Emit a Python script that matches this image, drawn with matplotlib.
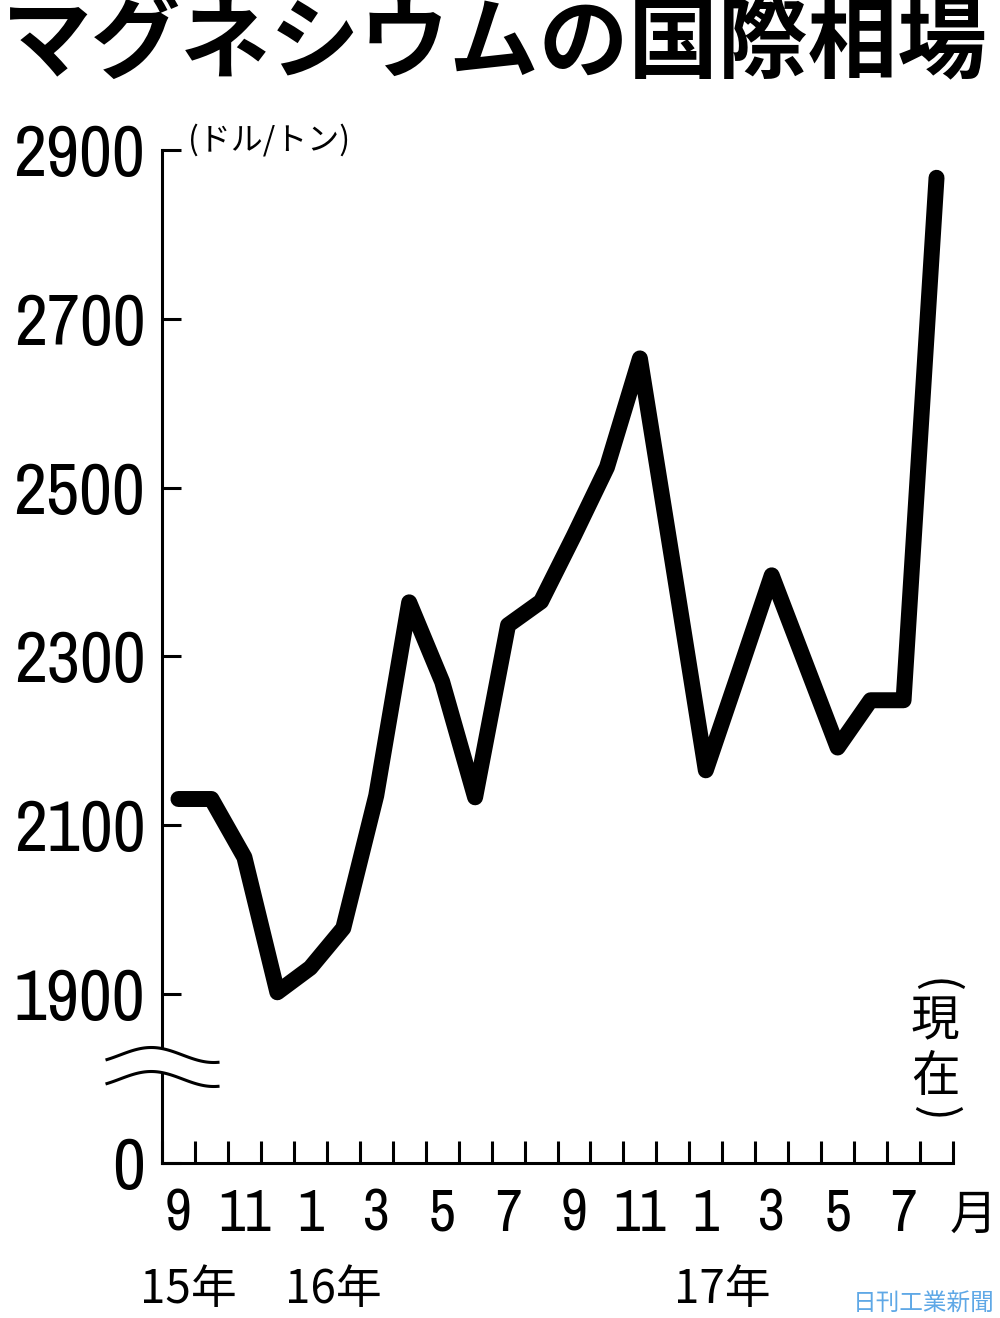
import numpy as np
import matplotlib
matplotlib.use("Agg")
import matplotlib.pyplot as plt

# monthly prices, 2015/9 .. 2017/8 (ドル/トン)
prices = [2131, 2131, 2062, 1902, 1931, 1978, 2135, 2364, 2270, 2133, 2337, 2365,
          2443, 2524, 2653, 2410, 2165, 2280, 2396, 2294, 2192, 2248, 2248, 2867]
month_labels = ["9", "11", "1", "3", "5", "7", "9", "11", "1", "3", "5", "7"]
year_labels = ["15年", "16年", "17年"]
year_pos = [0.3, 4.7, 16.5]
ytick_vals = [1700, 1900, 2100, 2300, 2500, 2700, 2900]
ytick_text = ["0", "1900", "2100", "2300", "2500", "2700", "2900"]

JP = ["Noto Sans CJK JP", "DejaVu Sans"]
NUM = ["Archivo Narrow", "Liberation Sans", "DejaVu Sans"]

fig = plt.figure(figsize=(10, 13.18), dpi=100)
ax = fig.add_axes([0.162, 0.11776, 0.791, 0.7877])

x = np.arange(len(prices))
ax.plot(x, prices, color="black", lw=11.5, solid_capstyle="round",
        solid_joinstyle="round", clip_on=False, zorder=5)

ax.set_xlim(-0.5, 23.5)
ax.set_ylim(1700, 2930)
for s in ["top", "right"]:
    ax.spines[s].set_visible(False)
ax.spines["left"].set_bounds(1700, 2900)
ax.spines["left"].set_linewidth(2.2)
ax.spines["bottom"].set_linewidth(2.2)

ax.set_yticks(ytick_vals)
ax.set_yticklabels(ytick_text, family=NUM, fontsize=52)
ax.tick_params(axis="y", direction="in", length=14, width=2.2, pad=12)

ax.set_xticks(np.arange(0, 24, 2))
ax.set_xticklabels(month_labels, family=NUM, fontsize=42)
ax.set_xticks(np.arange(-0.5, 24, 1), minor=True)
ax.tick_params(axis="x", which="major", length=0, pad=18)
ax.tick_params(axis="x", which="minor", direction="in", length=16, width=2.2)

ax.text(24.1, 1638, "月", family=JP, fontsize=34, ha="center", va="center")
for lab, pos in zip(year_labels, year_pos):
    ax.text(pos, 1550, lab, family=JP, fontsize=33, ha="center", va="center")

# overlay in pixel coords for title and decorations
ov = fig.add_axes([0, 0, 1, 1], facecolor="none")
ov.set_xlim(0, 1000)
ov.set_ylim(1318, 0)
ov.axis("off")

ov.text(2, 44, "マグネシウムの国際相場", family=JP, fontsize=64.5, fontweight="bold",
        ha="left", va="center")
ov.text(188, 140, "(ドル/トン)", family=JP, fontsize=23, ha="left", va="center")

# vertical (現在)
ov.text(935, 986, "(", family=JP, fontsize=34, rotation=-90, rotation_mode="anchor",
        ha="center", va="center")
ov.text(935, 1022, "現", family=JP, fontsize=35, ha="center", va="center")
ov.text(935, 1077, "在", family=JP, fontsize=35, ha="center", va="center")
ov.text(935, 1114, ")", family=JP, fontsize=34, rotation=-90, rotation_mode="anchor",
        ha="center", va="center")

# axis break waves
wx = np.linspace(107, 218, 80)
wave = -7.5 * np.sin((wx - 120) / 125 * 2 * np.pi)
y1 = 1055 + wave
y2 = 1079 + wave
ov.fill_between(wx[20:60], y1[20:60], y2[20:60], color="white", zorder=3)
ov.plot(wx, y1, color="black", lw=2.2, zorder=4)
ov.plot(wx, y2, color="black", lw=2.2, zorder=4)

ov.text(995, 1304, "日刊工業新聞", family=JP, fontsize=17, color="#5fa8e6",
        ha="right", va="center")

fig.savefig("out.png", dpi=100)
